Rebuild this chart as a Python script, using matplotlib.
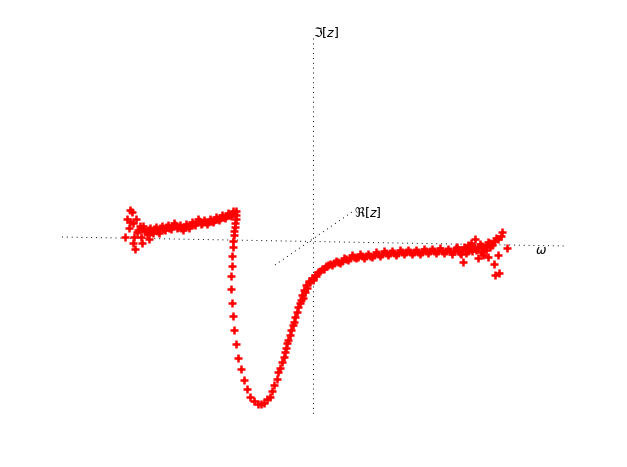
import numpy as np
import matplotlib.pyplot as plt

# screen-projected samples: omega (horizontal) and imaginary part (vertical)
# left plateau, noisy start
noise_left_w = [-1.83, -1.81, -1.86, -1.83, -1.84, -1.80, -1.77, -1.88, -1.79, -1.80,
                -1.78, -1.76, -1.72, -1.71, -1.73, -1.64, -1.75]
noise_left_v = [0.31, 0.29, 0.22, 0.19, 0.13, 0.18, 0.22, 0.04, 0.04, -0.02,
                -0.08, 0.09, 0.04, -0.02, 0.15, 0.02, 0.11]

plateau_w = [-1.71, -1.68, -1.65, -1.62, -1.59, -1.56, -1.53, -1.50, -1.47, -1.44,
             -1.41, -1.38, -1.35, -1.32, -1.29, -1.26, -1.23, -1.20, -1.17, -1.14,
             -1.11, -1.08, -1.05, -1.02, -0.99, -0.96, -0.93, -0.90, -0.87, -0.84,
             -0.81, -0.79, -0.77,
             -1.70, -1.66, -1.63, -1.60, -1.57, -1.54, -1.51, -1.48, -1.45, -1.42,
             -1.39, -1.36, -1.33, -1.30, -1.27, -1.24, -1.21, -1.18, -1.15, -1.12,
             -1.09, -1.06, -1.03, -1.00, -0.97, -0.94, -0.91, -0.88, -0.85, -0.82,
             -0.80]
plateau_v = [0.12, 0.10, 0.11, 0.09, 0.12, 0.10, 0.13, 0.12, 0.14, 0.13,
             0.15, 0.16, 0.14, 0.13, 0.14, 0.15, 0.16, 0.17, 0.19, 0.20,
             0.18, 0.19, 0.19, 0.20, 0.21, 0.22, 0.23, 0.24, 0.25, 0.26,
             0.27, 0.28, 0.30,
             0.15, 0.07, 0.13, 0.08, 0.14, 0.08, 0.15, 0.11, 0.16, 0.12,
             0.18, 0.13, 0.16, 0.11, 0.17, 0.13, 0.19, 0.16, 0.22, 0.17,
             0.21, 0.17, 0.22, 0.19, 0.24, 0.21, 0.26, 0.23, 0.28, 0.25,
             0.30]

# resonance dip
dip_w = [-0.77, -0.77, -0.78, -0.78, -0.79, -0.79, -0.80, -0.80, -0.81, -0.81,
         -0.82, -0.82, -0.81, -0.80, -0.79, -0.77, -0.75, -0.72, -0.69, -0.66,
         -0.63, -0.59, -0.55, -0.52, -0.49, -0.46, -0.43, -0.41, -0.39, -0.36,
         -0.35, -0.33, -0.31, -0.29, -0.28, -0.27, -0.26, -0.25, -0.23, -0.22,
         -0.20, -0.19, -0.18, -0.16, -0.15, -0.13]
dip_v = [0.26, 0.22, 0.18, 0.14, 0.10, 0.06, 0.00, -0.06, -0.15, -0.25,
         -0.35, -0.48, -0.62, -0.75, -0.89, -1.03, -1.17, -1.28, -1.39, -1.48,
         -1.56, -1.60, -1.63, -1.63, -1.62, -1.58, -1.56, -1.50, -1.44, -1.38,
         -1.31, -1.27, -1.21, -1.16, -1.11, -1.07, -1.02, -0.99, -0.94, -0.89,
         -0.84, -0.81, -0.76, -0.71, -0.66, -0.62]

# recovery and right plateau
right_w = [-0.12, -0.11, -0.09, -0.07, -0.04, -0.01, 0.02, 0.05, 0.09, 0.13,
           0.17, 0.21, 0.25, 0.29, 0.33, 0.37, 0.41, 0.45, 0.49, 0.53,
           0.57, 0.61, 0.65, 0.69, 0.73, 0.77, 0.81, 0.85, 0.89, 0.93,
           0.97, 1.01, 1.05, 1.09, 1.13, 1.17, 1.21, 1.25, 1.29, 1.33,
           1.37, 1.41, 1.45, 1.49, 1.53, 1.57, 1.61, 1.65, 1.69, 1.73,
           1.77, 1.81, 1.85,
           -0.10, -0.08, -0.06, -0.03, 0.00, 0.03, 0.07, 0.11, 0.15, 0.19,
           0.23, 0.27, 0.31, 0.35, 0.39, 0.43, 0.47, 0.51, 0.55, 0.59,
           0.63, 0.67, 0.71, 0.75, 0.79, 0.83, 0.87, 0.91, 0.95, 0.99,
           1.03, 1.07, 1.11, 1.15, 1.19, 1.23, 1.27, 1.31, 1.35, 1.39,
           1.43, 1.47, 1.51, 1.55, 1.59, 1.63, 1.67, 1.71, 1.75, 1.79,
           1.83]
right_v = [-0.59, -0.54, -0.49, -0.44, -0.40, -0.37, -0.34, -0.31, -0.28, -0.25,
           -0.23, -0.22, -0.21, -0.20, -0.18, -0.17, -0.16, -0.16, -0.15, -0.15,
           -0.15, -0.14, -0.13, -0.13, -0.12, -0.12, -0.12, -0.12, -0.11, -0.11,
           -0.11, -0.11, -0.11, -0.11, -0.10, -0.10, -0.10, -0.10, -0.10, -0.10,
           -0.10, -0.10, -0.09, -0.09, -0.08, -0.08, -0.07, -0.06, -0.05, -0.04,
           -0.02, 0.00, 0.02,
           -0.57, -0.51, -0.47, -0.41, -0.39, -0.35, -0.30, -0.28, -0.24, -0.24,
           -0.20, -0.22, -0.17, -0.19, -0.14, -0.17, -0.13, -0.17, -0.13, -0.16,
           -0.11, -0.15, -0.10, -0.14, -0.10, -0.14, -0.09, -0.13, -0.09, -0.13,
           -0.09, -0.13, -0.08, -0.12, -0.08, -0.12, -0.07, -0.12, -0.08, -0.13,
           -0.07, -0.12, -0.06, -0.10, -0.05, -0.09, -0.03, -0.07, -0.01, -0.04,
           0.03]

# scattered samples at the high-frequency end
noise_right_w = [1.62, 1.89, 1.94, 1.50, 1.81, 1.86, 1.82, 1.65, 1.70, 1.77,
                 1.53, 1.73, 1.59, 1.44, 1.55, 1.79, 1.85, 1.68, 1.48, 1.58,
                 1.75, 1.88]
noise_right_v = [0.02, 0.09, -0.07, -0.21, -0.23, -0.32, -0.34, -0.17, -0.14, -0.06,
                 -0.12, -0.09, -0.10, -0.06, -0.04, -0.03, -0.14, -0.11, -0.13, -0.02,
                 -0.16, 0.05]

fig = plt.figure(figsize=(6.27, 4.67), dpi=100)
ax = fig.add_axes([0, 0, 1, 1])
ax.set_xlim(-3.13, 3.14)
ax.set_ylim(-2.26, 2.41)
ax.axis('off')

# dotted 3D-style axes
dots = dict(color='black', lw=0.7, linestyle=(0, (1, 4)))
ax.plot([-2.51, 2.52], [0.04, -0.05], **dots)
ax.plot([0, 0], [2.03, -1.74], **dots)
ax.plot([-0.38, 0.39], [-0.24, 0.29], **dots)
ax.text(0.0, 2.08, r'$\Im[z]$', fontsize=9, ha='left', va='center')
ax.text(0.41, 0.28, r'$\Re[z]$', fontsize=9, ha='left', va='center')
ax.text(2.22, -0.10, r'$\omega$', fontsize=9, ha='left', va='center')

w = noise_left_w + plateau_w + dip_w + right_w + noise_right_w
v = noise_left_v + plateau_v + dip_v + right_v + noise_right_v
ax.plot(w, v, linestyle='none', marker='+', color='red', markersize=5.5, mew=1.8)

fig.savefig('out.png', dpi=100)
